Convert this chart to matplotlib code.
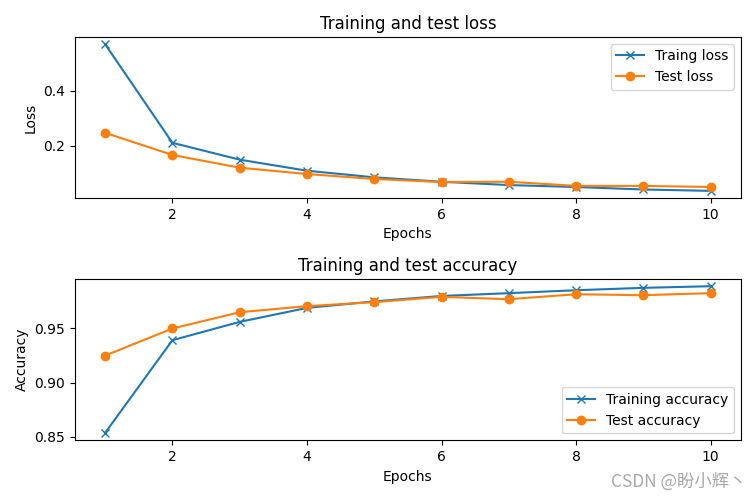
import matplotlib
matplotlib.use('Agg')
import matplotlib.pyplot as plt

# Данные
epochs = list(range(1, 11))
train_loss = [0.568, 0.211, 0.150, 0.110, 0.086, 0.070, 0.058, 0.051, 0.042, 0.037]
test_loss = [0.247, 0.167, 0.121, 0.098, 0.080, 0.069, 0.070, 0.055, 0.055, 0.051]
train_acc = [0.8537, 0.9392, 0.9561, 0.9690, 0.9750, 0.9800, 0.9826, 0.9853, 0.9875, 0.9890]
test_acc = [0.925, 0.950, 0.965, 0.9706, 0.9743, 0.9792, 0.9770, 0.9816, 0.9807, 0.9826]

fig, axs = plt.subplots(2, 1, figsize=(7.56, 4.98), dpi=100)
plt.subplots_adjust(left=0.099, right=0.980, top=0.926, bottom=0.116, hspace=0.50)

# Потери
axs[0].plot(epochs, train_loss, marker='x', label='Traing loss')
axs[0].plot(epochs, test_loss, marker='o', label='Test loss')
axs[0].set_title('Training and test loss')
axs[0].set_xlabel('Epochs')
axs[0].set_ylabel('Loss')
axs[0].legend(loc='upper right')

# Точность
axs[1].plot(epochs, train_acc, marker='x', label='Training accuracy')
axs[1].plot(epochs, test_acc, marker='o', label='Test accuracy')
axs[1].set_title('Training and test accuracy')
axs[1].set_xlabel('Epochs')
axs[1].set_ylabel('Accuracy')
axs[1].legend(loc='lower right')

# Водяной знак
fig.text(0.988, 0.014, 'CSDN @盼小辉丶', ha='right', va='bottom', fontsize=12.5,
         color='#a0a0a0', alpha=0.9, family=['Noto Sans CJK SC', 'DejaVu Sans'])

fig.savefig('out.png', dpi=100)
